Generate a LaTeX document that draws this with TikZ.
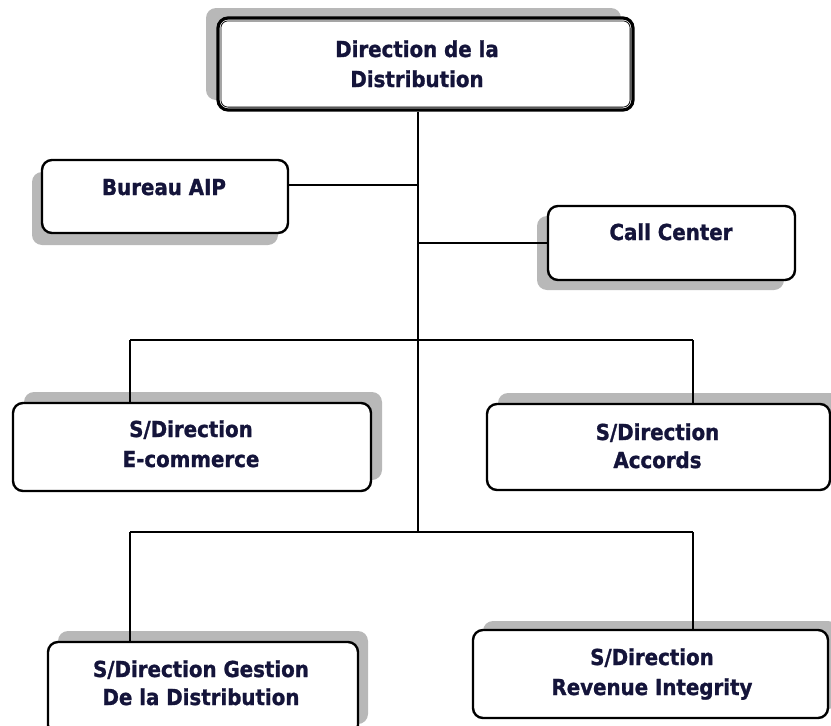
\documentclass[tikz,border=0pt]{standalone}
\usepackage{fontspec}
\setmainfont{DejaVu Sans Condensed}[BoldFeatures={FakeBold=1.2}]
\usetikzlibrary{shadows}
\definecolor{ink}{HTML}{14143A}
\definecolor{shade}{HTML}{B8B8B8}
\tikzset{
  box/.style={draw=black, line width=2.4pt, rounded corners=10pt, fill=white, inner sep=0pt},
  lbl/.style={text=ink, font=\fontsize{22}{30}\selectfont\bfseries, inner sep=0pt, anchor=base},
  link/.style={draw=black, line width=1.4pt},
  sh/.style 2 args={general shadow={fill=shade, shadow xshift=#1, shadow yshift=#2}}
}
\begin{document}
\begin{tikzpicture}[x=1pt,y=-1pt]
  \useasboundingbox (0,0) rectangle (831,726);
  \clip (0,0) rectangle (831,726);

  % junction points of the tree
  \coordinate (j1) at (418,340);
  \coordinate (j2) at (418,532);
  \coordinate (bj) at (418,185);
  \coordinate (e1) at (130,340);
  \coordinate (a1) at (693,340);
  \coordinate (g1) at (130,532);
  \coordinate (r1) at (693,532);

  % boxes
  \node[box, sh={-12pt}{10pt}, line width=3.2pt, minimum width=415pt, minimum height=92pt] (top) at (425.5,64) {};
  \draw[line width=0.8pt, rounded corners=7pt]
    ([shift={(4.5pt,-4.5pt)}]top.north west) rectangle ([shift={(-4.5pt,4.5pt)}]top.south east);
  \node[box, sh={-10pt}{-12pt}, minimum width=246pt, minimum height=73pt] (bureau) at (165,196.5) {};
  \node[box, sh={-11pt}{-10pt}, minimum width=247pt, minimum height=74pt] (call) at (671.5,243) {};
  \node[box, sh={11pt}{11pt}, minimum width=358pt, minimum height=88pt] (ecom) at (192,447) {};
  \node[box, sh={11pt}{11pt}, minimum width=343pt, minimum height=86pt] (accords) at (658.5,447) {};
  \node[box, sh={10pt}{11pt}, minimum width=310pt, minimum height=93pt] (gestion) at (203,688.5) {};
  \node[box, sh={10pt}{9pt}, minimum width=355pt, minimum height=88pt] (revenue) at (650.5,674) {};

  % connectors
  \draw[link] (j1 |- top.south) -- (j2);
  \draw[link] (bj -| bureau.east) -- (bj);
  \draw[link] (call.west -| j1) -- (call.west);
  \draw[link] (e1) -- (a1);
  \draw[link] (e1) -- (e1 |- ecom.north);
  \draw[link] (a1) -- (a1 |- accords.north);
  \draw[link] (g1) -- (r1);
  \draw[link] (g1) -- (g1 |- gestion.north);
  \draw[link] (r1) -- (r1 |- revenue.north);

  % labels
  \node[lbl] (ttop1) at (417,57) {Direction de la};
  \node[lbl] (ttop2) at (417,87) {Distribution};
  \node[lbl] (tbur) at (164,195) {Bureau AIP};
  \node[lbl] (tcall) at (671,240) {Call Center};
  \node[lbl] (tecom1) at (191,437) {S/Direction};
  \node[lbl] (tecom2) at (191,467) {E-commerce};
  \node[lbl] (tacc1) at (657.5,440) {S/Direction};
  \node[lbl] (tacc2) at (657.5,468) {Accords};
  \node[lbl] (tges1) at (201,677) {S/Direction Gestion};
  \node[lbl] (tges2) at (201,705) {De la Distribution};
  \node[lbl] (trev1) at (652,665) {S/Direction};
  \node[lbl] (trev2) at (652,695) {Revenue Integrity};
\end{tikzpicture}
\end{document}
